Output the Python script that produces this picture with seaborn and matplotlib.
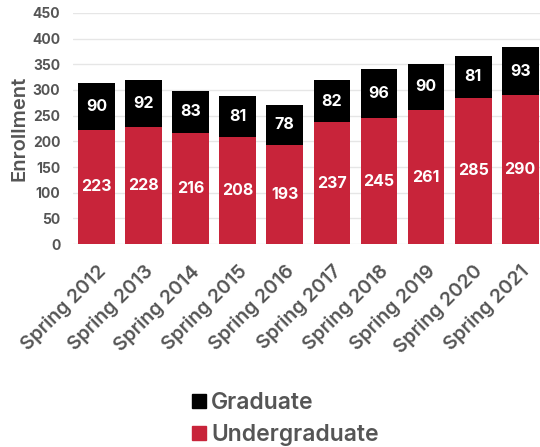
import matplotlib
matplotlib.use("Agg")
import matplotlib.pyplot as plt
from matplotlib.lines import Line2D
import seaborn as sns
import pandas as pd

# Enrollment by spring term
terms = ["Spring 2012", "Spring 2013", "Spring 2014", "Spring 2015", "Spring 2016",
         "Spring 2017", "Spring 2018", "Spring 2019", "Spring 2020", "Spring 2021"]
undergraduate = [223, 228, 216, 208, 193, 237, 245, 261, 285, 290]
graduate = [90, 92, 83, 81, 78, 82, 96, 90, 81, 93]
y_ticks = [0, 50, 100, 150, 200, 250, 300, 350, 400, 450]

RED = "#c8243a"
BLACK = "#000000"
GRAY = "#555555"

sns.set_theme(style="white")
plt.rcParams["font.family"] = ["Inter", "DejaVu Sans"]

df = pd.DataFrame({"term": terms, "Undergraduate": undergraduate, "Graduate": graduate})
df["total"] = df["Undergraduate"] + df["Graduate"]

fig = plt.figure(figsize=(5.4, 4.47), dpi=100)
ax = fig.add_axes([0.135, 0.454, 0.865, 0.517])

# Stacked bars: total height in black, undergraduate share in red on top
sns.barplot(data=df, x="term", y="total", color=BLACK, width=0.78, saturation=1,
            linewidth=0, ax=ax, zorder=2)
sns.barplot(data=df, x="term", y="Undergraduate", color=RED, width=0.78, saturation=1,
            linewidth=0, ax=ax, zorder=3)

for i, (u, g) in enumerate(zip(undergraduate, graduate)):
    ax.text(i, u / 2, str(u), ha="center", va="center", color="white",
            fontsize=11.5, fontweight="bold", zorder=4)
    ax.text(i, u + g / 2, str(g), ha="center", va="center", color="white",
            fontsize=11.5, fontweight="bold", zorder=4)

ax.set_ylim(0, 450)
ax.set_xlim(-0.5, 9.42)
ax.set_yticks(y_ticks)
ax.yaxis.grid(True, color="#e6e6e6", linewidth=1, zorder=0)
ax.set_axisbelow(True)
for s in ax.spines.values():
    s.set_visible(False)
ax.tick_params(axis="y", length=0, pad=9, labelsize=10, labelcolor=GRAY)
ax.tick_params(axis="x", length=0, pad=13, labelsize=14, labelcolor=GRAY)
for lbl in ax.get_yticklabels():
    lbl.set_fontweight("bold")
plt.setp(ax.get_xticklabels(), rotation=45, ha="right", rotation_mode="anchor", fontweight="semibold")
ax.set_xlabel("")
ax.set_ylabel("Enrollment", fontsize=14.5, color=GRAY, fontweight="semibold", labelpad=3)

handles = [
    Line2D([], [], marker="s", linestyle="none", markersize=10, color=BLACK, label="Graduate"),
    Line2D([], [], marker="s", linestyle="none", markersize=10, color=RED, label="Undergraduate"),
]
leg = fig.legend(handles=handles, loc="center left", bbox_to_anchor=(0.31, 0.063),
                 frameon=False, fontsize=16.5, handletextpad=0.0, labelspacing=0.45,
                 handlelength=1.0)
for t in leg.get_texts():
    t.set_color(GRAY)
    t.set_fontweight("semibold")

fig.savefig("out.png", dpi=100)
